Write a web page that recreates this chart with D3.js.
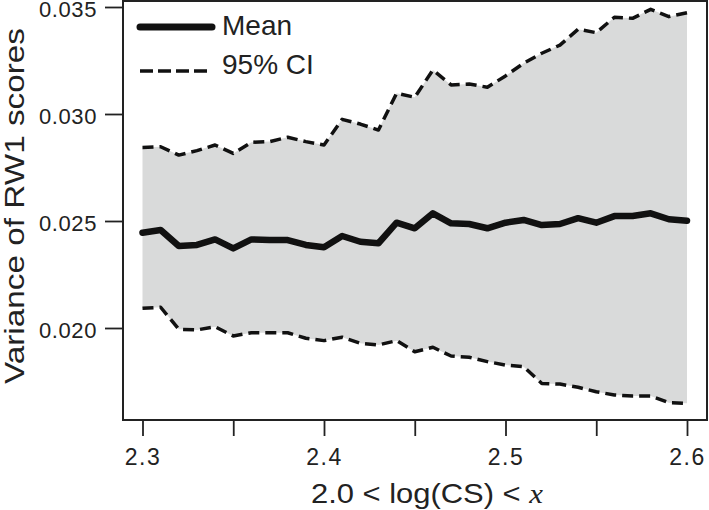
<!DOCTYPE html>
<html>
<head>
<meta charset="utf-8">
<script src="https://cdn.jsdelivr.net/npm/d3@7"></script>
<style>
  html, body { margin: 0; padding: 0; background: #fff; }
  svg { display: block; }
  text { font-family: "Liberation Sans", Arial, Helvetica, sans-serif; fill: #222; }
</style>
</head>
<body>
<svg id="chart" width="709" height="510"></svg>
<script>
const xValues = [2.30, 2.31, 2.32, 2.33, 2.34, 2.35, 2.36, 2.37, 2.38, 2.39, 2.40,
                 2.41, 2.42, 2.43, 2.44, 2.45, 2.46, 2.47, 2.48, 2.49, 2.50,
                 2.51, 2.52, 2.53, 2.54, 2.55, 2.56, 2.57, 2.58, 2.59, 2.60];
const meanValues = [0.02445, 0.02458, 0.02383, 0.02388, 0.02414, 0.02372, 0.02414, 0.02411, 0.02411, 0.02388, 0.02377,
                    0.02430, 0.02403, 0.02396, 0.02492, 0.02466, 0.02536, 0.02489, 0.02486, 0.02466, 0.02492,
                    0.02505, 0.02481, 0.02486, 0.02513, 0.02492, 0.02523, 0.02523, 0.02536, 0.02508, 0.02501];
const upperCI = [0.02844, 0.02847, 0.02808, 0.02829, 0.02855, 0.02816, 0.02868, 0.02871, 0.02891, 0.02871, 0.02855,
                 0.02975, 0.02953, 0.02925, 0.03097, 0.03078, 0.03206, 0.03136, 0.03140, 0.03125, 0.03178,
                 0.03237, 0.03284, 0.03322, 0.03396, 0.03380, 0.03452, 0.03447, 0.03489, 0.03455, 0.03473];
const lowerCI = [0.02092, 0.02097, 0.01994, 0.01991, 0.02006, 0.01963, 0.01978, 0.01978, 0.01978, 0.01952, 0.01941,
                 0.01957, 0.01929, 0.01921, 0.01941, 0.01889, 0.01910, 0.01869, 0.01863, 0.01843, 0.01827,
                 0.01819, 0.01741, 0.01738, 0.01723, 0.01702, 0.01687, 0.01682, 0.01682, 0.01651, 0.01648];
const xTicks = [2.30, 2.35, 2.40, 2.45, 2.50, 2.55, 2.60];
const xTickLabels = ["2.3", "", "2.4", "", "2.5", "", "2.6"];
const yTicks = [0.020, 0.025, 0.030, 0.035];
const yTickLabels = ["0.020", "0.025", "0.030", "0.035"];
const legendLabels = ["Mean", "95% CI"];

const svg = d3.select("#chart");
const box = { left: 123, right: 707, top: 1, bottom: 420 };

const x = d3.scaleLinear().domain([2.3, 2.6]).range([142.5, 687]);
const y = d3.scaleLinear().domain([0.020, 0.035]).range([328, 7]);

const data = xValues.map((v, i) => ({ x: v, m: meanValues[i], lo: lowerCI[i], hi: upperCI[i] }));

svg.append("defs").append("clipPath").attr("id", "clip")
  .append("rect").attr("x", box.left).attr("y", box.top)
  .attr("width", box.right - box.left).attr("height", box.bottom - box.top);

const plot = svg.append("g").attr("clip-path", "url(#clip)");

plot.append("path").datum(data)
  .attr("d", d3.area().x(d => x(d.x)).y0(d => y(d.lo)).y1(d => y(d.hi)))
  .attr("fill", "#d9dada");

const dash = "11,6";
["hi", "lo"].forEach(k => {
  plot.append("path").datum(data)
    .attr("d", d3.line().x(d => x(d.x)).y(d => y(d[k])))
    .attr("fill", "none").attr("stroke", "#111").attr("stroke-width", 3.5)
    .attr("stroke-dasharray", dash).attr("stroke-linejoin", "round");
});

plot.append("path").datum(data)
  .attr("d", d3.line().x(d => x(d.x)).y(d => y(d.m)))
  .attr("fill", "none").attr("stroke", "#111").attr("stroke-width", 6.5)
  .attr("stroke-linejoin", "round").attr("stroke-linecap", "round");

// Box
svg.append("rect").attr("x", box.left).attr("y", box.top)
  .attr("width", box.right - box.left).attr("height", box.bottom - box.top)
  .attr("fill", "none").attr("stroke", "#222").attr("stroke-width", 2);

// X axis
const xAxis = d3.axisBottom(x).tickValues(xTicks)
  .tickFormat((d, i) => xTickLabels[i]).tickSize(15).tickSizeOuter(0).tickPadding(13);
const gx = svg.append("g").attr("transform", `translate(0,${box.bottom + 1})`).call(xAxis);
gx.select(".domain").remove();
gx.selectAll(".tick line").attr("stroke", "#222").attr("stroke-width", 1.8);
gx.selectAll(".tick text").attr("font-size", 23).attr("fill", "#222")
  .attr("font-family", "'Liberation Sans', Arial, sans-serif").attr("letter-spacing", 1.5);

// Y axis
const yAxis = d3.axisLeft(y).tickValues(yTicks)
  .tickFormat((d, i) => yTickLabels[i]).tickSize(18).tickSizeOuter(0).tickPadding(8);
const gy = svg.append("g").attr("transform", `translate(${box.left},0)`).call(yAxis);
gy.select(".domain").remove();
gy.selectAll(".tick line").attr("stroke", "#222").attr("stroke-width", 1.8);
gy.selectAll(".tick text").attr("font-size", 22).attr("fill", "#222")
  .attr("font-family", "'Liberation Sans', Arial, sans-serif").attr("dy", "0.42em")
  .attr("letter-spacing", 0.6);

// Axis titles
const xt = svg.append("text").attr("x", 427).attr("y", 503)
  .attr("text-anchor", "middle").attr("font-size", 28)
  .attr("textLength", 232).attr("lengthAdjust", "spacingAndGlyphs");
xt.append("tspan").text("2.0 < log(CS) < ");
xt.append("tspan").text("x").attr("font-family", "'Liberation Serif', 'Times New Roman', serif")
  .attr("font-style", "italic");

svg.append("text").attr("transform", "translate(24,206) rotate(-90)")
  .attr("text-anchor", "middle").attr("font-size", 28)
  .attr("textLength", 356).attr("lengthAdjust", "spacingAndGlyphs")
  .text("Variance of RW1 scores");

// Legend
const lg = svg.append("g");
lg.append("line").attr("x1", 140).attr("x2", 212).attr("y1", 27).attr("y2", 27)
  .attr("stroke", "#111").attr("stroke-width", 7).attr("stroke-linecap", "round");
lg.append("text").attr("x", 222).attr("y", 34.5).attr("font-size", 28).text(legendLabels[0]);
lg.append("line").attr("x1", 140).attr("x2", 212).attr("y1", 71).attr("y2", 71)
  .attr("stroke", "#111").attr("stroke-width", 3.5).attr("stroke-dasharray", "13,5");
lg.append("text").attr("x", 222).attr("y", 73.5).attr("font-size", 28).text(legendLabels[1]);
</script>
</body>
</html>
